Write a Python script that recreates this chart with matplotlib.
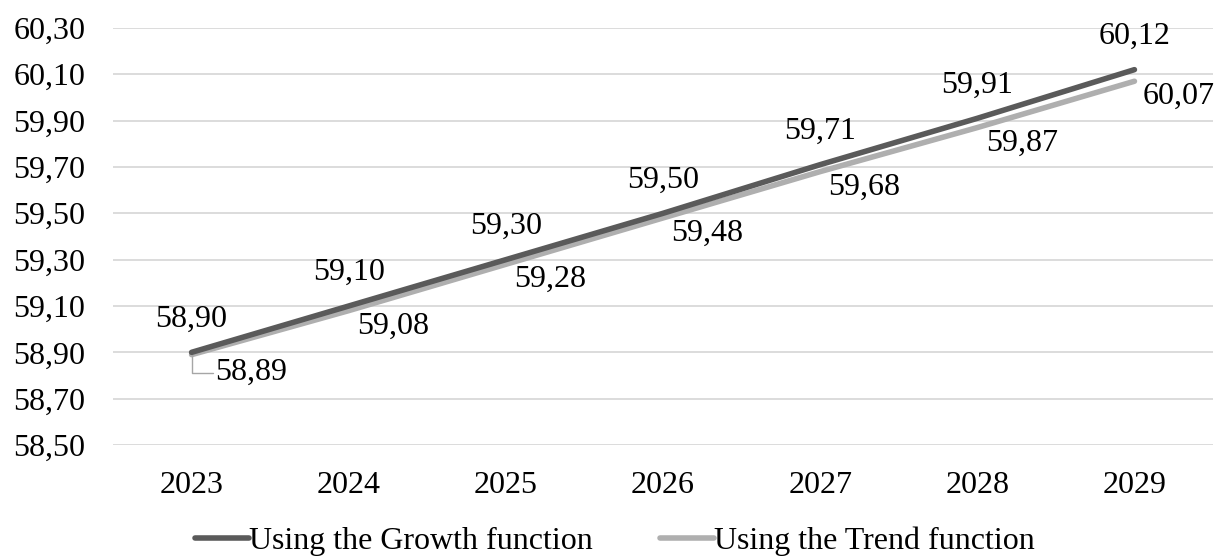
import matplotlib.pyplot as plt
from matplotlib.ticker import FuncFormatter

years = ["2023", "2024", "2025", "2026", "2027", "2028", "2029"]
growth = [58.90, 59.10, 59.30, 59.50, 59.71, 59.91, 60.12]
trend = [58.89, 59.08, 59.28, 59.48, 59.68, 59.87, 60.07]
y_ticks = [58.50, 58.70, 58.90, 59.10, 59.30, 59.50, 59.70, 59.90, 60.10, 60.30]

plt.rcParams["font.family"] = ["Liberation Serif", "DejaVu Serif"]
FS = 23
DARK = "#5a5a5a"
LIGHT = "#afafaf"


def comma(v, pos=None):
    return f"{v:.2f}".replace(".", ",")


fig = plt.figure(figsize=(12.18, 5.59), dpi=100)
ax = fig.add_axes([0.0928, 0.2039, 0.9031, 0.7461])

x = list(range(len(years)))
ax.plot(x, trend, color=LIGHT, lw=4, solid_capstyle="round", label="Using the Trend function", zorder=3)
ax.plot(x, growth, color=DARK, lw=4, solid_capstyle="round", label="Using the Growth function", zorder=4)

# value labels: Growth above the point, Trend below-right
for i, v in enumerate(growth):
    ax.annotate(comma(v), (i, v), xytext=(0, 24), textcoords="offset points",
                ha="center", va="center", fontsize=FS)
for i, v in enumerate(trend):
    if i == 0:
        ax.annotate(comma(v), (i, v), xytext=(43, -13), textcoords="offset points",
                    ha="center", va="center", fontsize=FS,
                    arrowprops=dict(arrowstyle="-", color="#a6a6a6", lw=1,
                                    connectionstyle="angle,angleA=0,angleB=90,rad=0",
                                    shrinkA=24, shrinkB=0))
    else:
        ax.annotate(comma(v), (i, v), xytext=(32, -11), textcoords="offset points",
                    ha="center", va="center", fontsize=FS)

ax.set_xlim(-0.5, len(years) - 0.5)
ax.set_ylim(y_ticks[0], y_ticks[-1])
ax.set_xticks(x)
ax.set_xticklabels(years)
ax.set_yticks(y_ticks)
ax.yaxis.set_major_formatter(FuncFormatter(comma))
ax.tick_params(axis="both", length=0, labelsize=FS)
ax.tick_params(axis="x", pad=19)
ax.tick_params(axis="y", pad=20)
ax.grid(axis="y", color="#d9d9d9", lw=1.3)
ax.set_axisbelow(True)
for s in ax.spines.values():
    s.set_visible(False)

handles, labels = ax.get_legend_handles_labels()
fig.legend(handles[::-1], labels[::-1], loc="center", bbox_to_anchor=(0.505, 0.032),
           ncol=2, frameon=False, fontsize=FS, handlelength=1.7, handletextpad=0.0,
           columnspacing=2.1, borderaxespad=0)

fig.savefig("out.png", dpi=100)
